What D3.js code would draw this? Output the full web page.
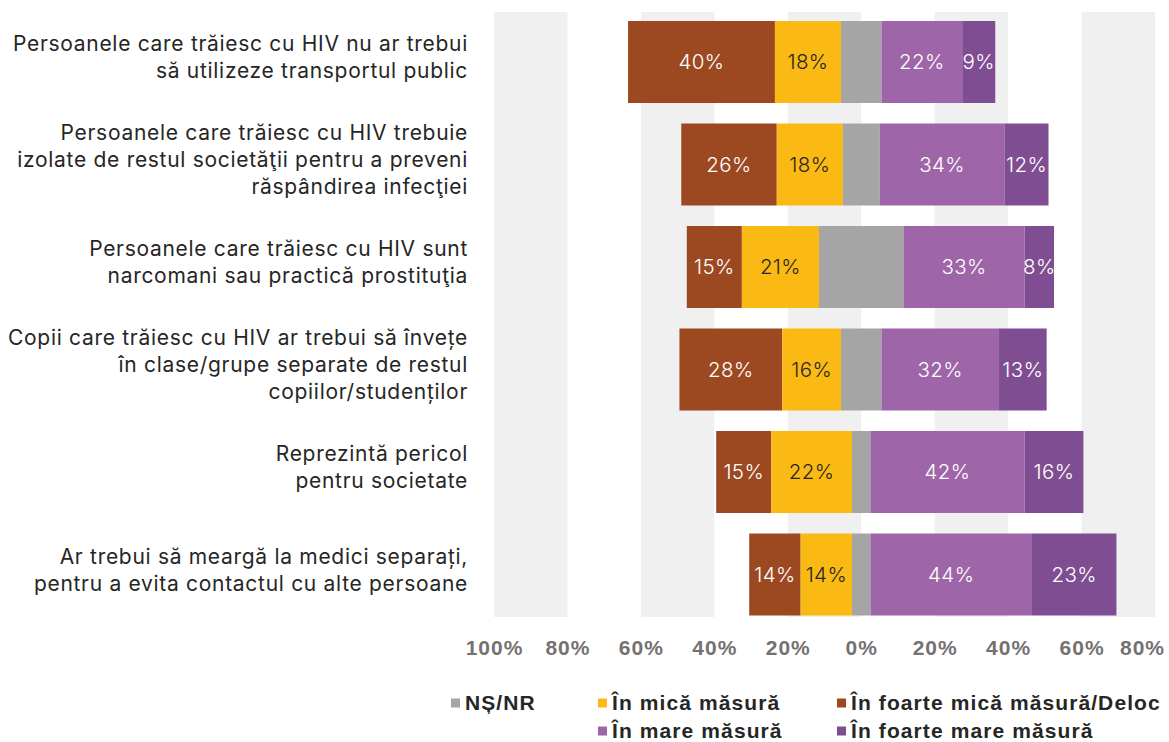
<!DOCTYPE html>
<html>
<head>
<meta charset="utf-8">
<script src="https://cdn.jsdelivr.net/npm/d3@7"></script>
<style>
  html, body { margin: 0; padding: 0; background: #ffffff; }
  svg { display: block; }
</style>
</head>
<body>
<div id="chart"></div>
<script>
// ---------------- DATA ----------------
const categories = [
  ["Persoanele care trăiesc cu HIV nu ar trebui", "să utilizeze transportul public"],
  ["Persoanele care trăiesc cu HIV trebuie", "izolate de restul societăţii pentru a preveni", "răspândirea infecţiei"],
  ["Persoanele care trăiesc cu HIV sunt", "narcomani sau practică prostituţia"],
  ["Copii care trăiesc cu HIV ar trebui să învețe", "în clase/grupe separate de restul", "copiilor/studenților"],
  ["Reprezintă pericol", "pentru societate"],
  ["Ar trebui să meargă la medici separați,", "pentru a evita contactul cu alte persoane"]
];
const seriesNames = ["În foarte mică măsură/Deloc", "În mică măsură", "NȘ/NR", "În mare măsură", "În foarte mare măsură"];
const foarteMicaDeloc = [40, 26, 15, 28, 15, 14];
const micaMasura      = [18, 18, 21, 16, 22, 14];
const nsnr            = [11, 10, 23, 11, 5, 5];
const mareMasura      = [22, 34, 33, 32, 42, 44];
const foarteMare      = [9, 12, 8, 13, 16, 23];
const tickValues = [-100, -80, -60, -40, -20, 0, 20, 40, 60, 80];
const legendOrder = [["NȘ/NR", "În mică măsură", "În foarte mică măsură/Deloc"], [null, "În mare măsură", "În foarte mare măsură"]];

// ---------------- STYLE / LAYOUT ----------------
const W = 1169, H = 742;
const colors = {
  "În foarte mică măsură/Deloc": "#9C4922",
  "În mică măsură": "#FBB914",
  "NȘ/NR": "#A5A5A5",
  "În mare măsură": "#9E66A8",
  "În foarte mare măsură": "#7F4E92"
};
const labelColors = {
  "În foarte mică măsură/Deloc": "#ffffff",
  "În mică măsură": "#262626",
  "În mare măsură": "#ffffff",
  "În foarte mare măsură": "#ffffff"
};
const plotTop = 12, plotBottom = 617;
const catFont = "Inter, 'Noto Sans', sans-serif";
const boldFont = "'Liberation Sans', Arial, sans-serif";

const valuesBySeries = [foarteMicaDeloc, micaMasura, nsnr, mareMasura, foarteMare];

const svg = d3.select("#chart").append("svg")
  .attr("width", W).attr("height", H)
  .attr("viewBox", `0 0 ${W} ${H}`);

const x = d3.scaleLinear().domain([-100, 80]).range([494, 1155]);
const y = d3.scaleBand().domain(d3.range(categories.length))
  .range([10.75, 625.75]).paddingInner(0.2).paddingOuter(0.1);

// background alternating bands
const bandPairs = [];
for (let i = 0; i < tickValues.length - 1; i += 2) bandPairs.push([tickValues[i], tickValues[i + 1]]);
svg.append("g").selectAll("rect").data(bandPairs).join("rect")
  .attr("x", d => x(d[0]))
  .attr("width", d => x(d[1]) - x(d[0]))
  .attr("y", plotTop)
  .attr("height", plotBottom - plotTop)
  .attr("fill", "#F0F0F0");

// build stacked rows
const rows = categories.map((c, i) => {
  const vals = valuesBySeries.map(arr => arr[i]);
  let start = -(vals[0] + vals[1] + vals[2] / 2);
  const segs = vals.map((v, k) => {
    const s = { key: seriesNames[k], value: v, x0: start, x1: start + v, row: i };
    start += v;
    return s;
  });
  return segs;
});

const barG = svg.append("g");
rows.forEach((segs, i) => {
  const g = barG.append("g");
  g.selectAll("rect").data(segs).join("rect")
    .attr("x", d => x(d.x0))
    .attr("width", d => x(d.x1) - x(d.x0))
    .attr("y", y(i))
    .attr("height", y.bandwidth())
    .attr("fill", d => colors[d.key]);
  g.selectAll("text").data(segs.filter(d => d.key !== "NȘ/NR")).join("text")
    .attr("x", d => (x(d.x0) + x(d.x1)) / 2)
    .attr("y", y(i) + y.bandwidth() / 2)
    .attr("dy", "0.36em")
    .attr("text-anchor", "middle")
    .attr("font-family", catFont)
    .attr("font-weight", 300)
    .attr("font-size", 20.5)
    .attr("letter-spacing", 0.4)
    .attr("fill", d => labelColors[d.key])
    .text(d => d.value + "%");
});

// category labels
const catG = svg.append("g");
categories.forEach((lines, i) => {
  const cy = y(i) + y.bandwidth() / 2 - 5;
  const lh = 27;
  const t = catG.append("text")
    .attr("text-anchor", "end")
    .attr("font-family", catFont)
    .attr("font-size", 21)
    .attr("letter-spacing", 0.7)
    .attr("fill", "#262626");
  lines.forEach((ln, j) => {
    t.append("tspan")
      .attr("x", 468)
      .attr("y", cy + (j - (lines.length - 1) / 2) * lh)
      .attr("dy", "0.36em")
      .text(ln);
  });
});

// x axis
const axis = d3.axisBottom(x).tickValues(tickValues).tickSize(0)
  .tickFormat(d => Math.abs(d) + "%");
const axG = svg.append("g").attr("transform", `translate(0, ${plotBottom + 20})`).call(axis);
axG.select(".domain").remove();
axG.selectAll("text")
  .attr("font-family", boldFont)
  .attr("font-weight", "bold")
  .attr("font-size", 21)
  .attr("letter-spacing", 1)
  .attr("fill", "#767171");
axG.selectAll(".tick text").each(function () {
  const bb = this.getBBox();
  const tr = this.parentNode.transform.baseVal.consolidate();
  const cx = tr ? tr.matrix.e : 0;
  if (cx + bb.width / 2 > W - 3) {
    d3.select(this).attr("text-anchor", "end").attr("x", W - 4 - cx);
  }
});

// legend
const legendCols = [451, 598, 837];
const legendRows = [702, 730];
const lg = svg.append("g");
legendOrder.forEach((row, r) => {
  row.forEach((name, c) => {
    if (!name) return;
    const g = lg.append("g").attr("transform", `translate(${legendCols[c]}, ${legendRows[r]})`);
    g.append("rect").attr("x", 0).attr("y", -3.5).attr("width", 9).attr("height", 9)
      .attr("fill", colors[name]);
    g.append("text").attr("x", 14).attr("y", 0).attr("dy", "0.36em")
      .attr("font-family", boldFont)
      .attr("font-weight", "bold")
      .attr("font-size", 21)
      .attr("letter-spacing", 1.1)
      .attr("fill", "#262626")
      .text(name);
  });
});
</script>
</body>
</html>
